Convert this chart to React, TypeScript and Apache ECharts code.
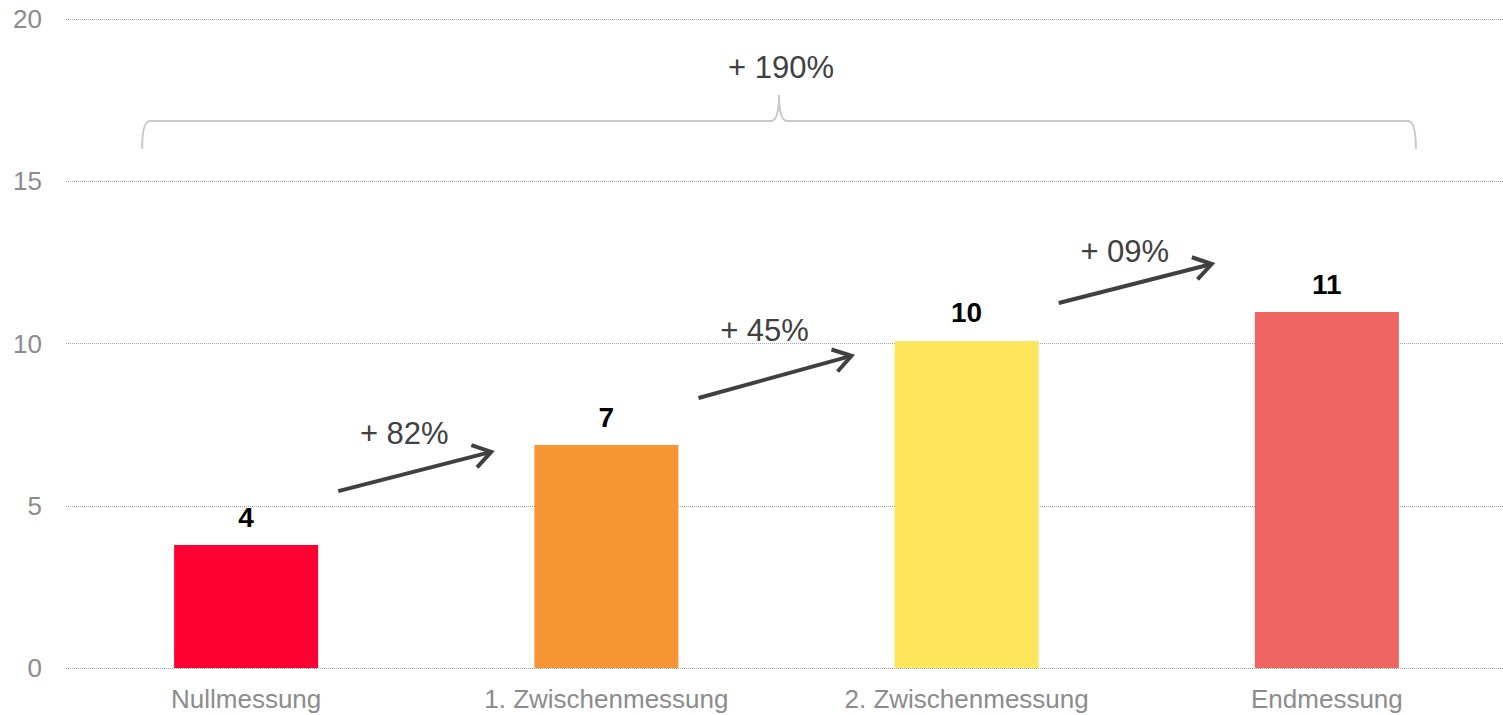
import React, { useEffect, useRef } from "react";
import * as echarts from "echarts";

const categories = ["Nullmessung", "1. Zwischenmessung", "2. Zwischenmessung", "Endmessung"];
const values = [3.79, 6.87, 10.08, 10.97];
const valueLabels = ["4", "7", "10", "11"];
const barColors = ["#FF0033", "#F79433", "#FFE55C", "#F06461"];
const stepLabels = ["+ 82%", "+ 45%", "+ 09%"];
const totalLabel = "+ 190%";
const yMin = 0;
const yMax = 20;
const yInterval = 5;

// annotation layout (data-unit heights, pixel offsets from category midpoints)
const arrowStartY = [5.45, 8.32, 11.25];
const arrowEndY = [6.66, 9.62, 12.45];
const stepLabelY = [7.22, 10.39, 12.85];
const braceY = 16.86;
const braceFootY = 16.0;
const bracePeakY = 17.66;
const totalLabelY = 18.52;

const FONT = '"Liberation Sans", Arial, Helvetica, sans-serif';

export default function App() {
  const ref = useRef<HTMLDivElement>(null);
  useEffect(() => {
    if (!ref.current) return;
    const chart = echarts.init(ref.current, null, { renderer: "svg" });
    chart.setOption({
      animation: false,
      grid: { left: 66, top: 19, width: 1441, bottom: 47, containLabel: false },
      xAxis: {
        type: "category",
        data: categories,
        axisLine: { show: false },
        axisTick: { show: false },
        axisLabel: { color: "#8c8c8c", fontSize: 26, fontFamily: FONT, margin: 18 },
      },
      yAxis: {
        type: "value",
        min: yMin,
        max: yMax,
        interval: yInterval,
        axisLine: { show: false },
        axisTick: { show: false },
        axisLabel: { color: "#8c8c8c", fontSize: 26, fontFamily: FONT, margin: 24 },
        splitLine: { lineStyle: { color: "#a6a6a6", type: [1, 1], width: 1 } },
      },
      series: [
        {
          type: "bar",
          barWidth: 144,
          data: values.map((v, i) => ({ value: v, itemStyle: { color: barColors[i] } })),
          label: {
            show: true,
            position: "top",
            distance: 14,
            color: "#000",
            fontWeight: "bold",
            fontSize: 28,
            fontFamily: FONT,
            formatter: (p: any) => valueLabels[p.dataIndex],
          },
        },
      ],
    });

    const px = (i: number, v: number) => chart.convertToPixel({ gridIndex: 0 }, [i, v]) as number[];
    const cx = categories.map((_, i) => px(i, 0)[0]);
    const yPx = (v: number) => px(0, v)[1];
    const graphics: any[] = [];
    const arrowColor = "#404040";

    for (let i = 0; i < stepLabels.length; i++) {
      const m = (cx[i] + cx[i + 1]) / 2;
      const x1 = m - 88;
      const x2 = m + 65;
      const y1 = yPx(arrowStartY[i]);
      const y2 = yPx(arrowEndY[i]);
      const ang = Math.atan2(y2 - y1, x2 - x1);
      const back = ang + Math.PI;
      const spread = (33 * Math.PI) / 180;
      const len = 21;
      const a1 = [x2 + len * Math.cos(back + spread), y2 + len * Math.sin(back + spread)];
      const a2 = [x2 + len * Math.cos(back - spread), y2 + len * Math.sin(back - spread)];
      graphics.push({
        type: "line",
        shape: { x1, y1, x2: x2 - 2 * Math.cos(ang), y2: y2 - 2 * Math.sin(ang) },
        style: { stroke: arrowColor, lineWidth: 4 },
      });
      graphics.push({
        type: "polyline",
        shape: { points: [a1, [x2, y2], a2] },
        style: { stroke: arrowColor, lineWidth: 4, fill: null },
      });
      graphics.push({
        type: "text",
        x: m - 22,
        y: yPx(stepLabelY[i]),
        style: {
          text: stepLabels[i],
          fill: arrowColor,
          fontSize: 31,
          fontFamily: FONT,
          align: "center",
          verticalAlign: "middle",
        },
      });
    }

    // brace
    const bl = cx[0] - 104;
    const br = cx[3] + 89;
    const bm = (bl + br) / 2;
    const by = yPx(braceY);
    const bf = yPx(braceFootY);
    const bp = yPx(bracePeakY);
    const braceStyle = { stroke: "#c8c8c8", lineWidth: 2, fill: null };
    graphics.push(
      { type: "bezierCurve", shape: { x1: bl, y1: bf, x2: bl + 8, y2: by, cpx1: bl, cpy1: by }, style: braceStyle },
      { type: "line", shape: { x1: bl + 8, y1: by, x2: bm - 8, y2: by }, style: braceStyle },
      { type: "bezierCurve", shape: { x1: bm - 8, y1: by, x2: bm, y2: bp, cpx1: bm, cpy1: by }, style: braceStyle },
      { type: "bezierCurve", shape: { x1: bm, y1: bp, x2: bm + 8, y2: by, cpx1: bm, cpy1: by }, style: braceStyle },
      { type: "line", shape: { x1: bm + 8, y1: by, x2: br - 8, y2: by }, style: braceStyle },
      { type: "bezierCurve", shape: { x1: br - 8, y1: by, x2: br, y2: bf, cpx1: br, cpy1: by }, style: braceStyle },
      {
        type: "text",
        x: bm + 2,
        y: yPx(totalLabelY),
        style: {
          text: totalLabel,
          fill: arrowColor,
          fontSize: 31,
          fontFamily: FONT,
          align: "center",
          verticalAlign: "middle",
        },
      }
    );
    chart.setOption({ graphic: graphics });

    return () => chart.dispose();
  }, []);
  return (
    <div style={{ position: "absolute", left: 0, top: 0, width: 1503, height: 715, overflow: "hidden", background: "#fff" }}>
      <div ref={ref} style={{ position: "absolute", left: 0, top: 0, width: 1520, height: 715 }} />
    </div>
  );
}
